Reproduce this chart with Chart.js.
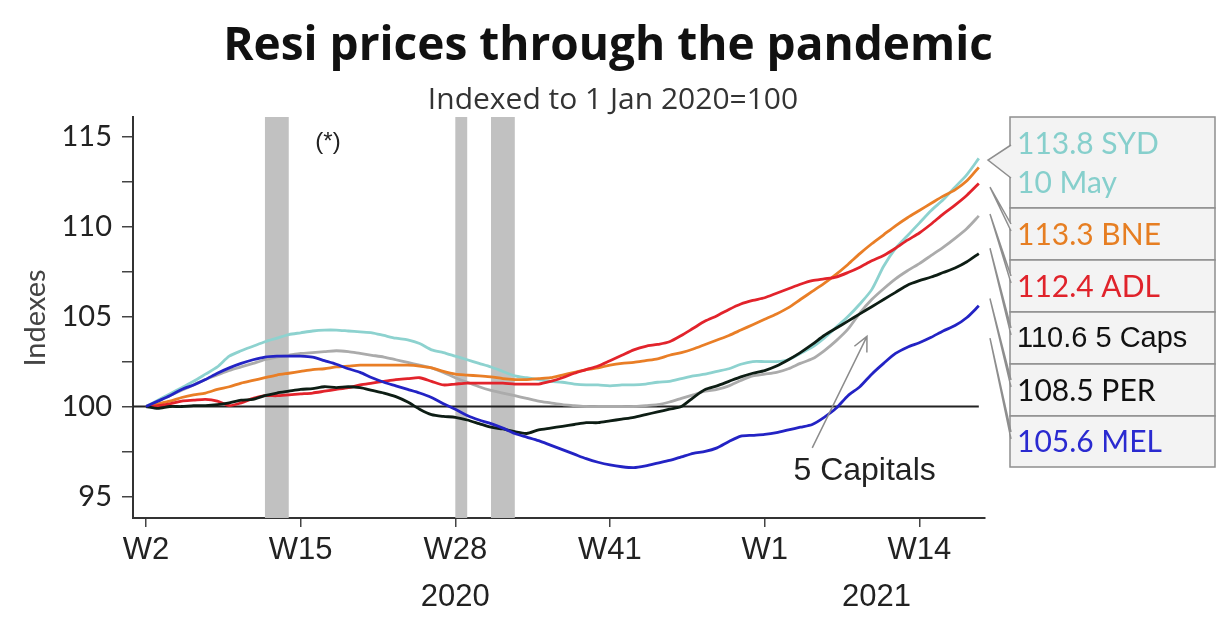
<!DOCTYPE html>
<html>
<head>
<meta charset="utf-8">
<script src="https://cdn.jsdelivr.net/npm/chart.js@4/dist/chart.umd.min.js"></script>
<style>
  html, body { margin: 0; padding: 0; background: #fff; }
  canvas { display: block; }
</style>
</head>
<body>
<canvas id="resiChart" width="1230" height="622"></canvas>
<script>
// weekly index values, W2 2020 .. W19 2021 (10 May)
const sydData = [100.0, 100.35, 100.7, 101.05, 101.4, 101.8, 102.2, 102.8, 103.1, 103.35,
  103.6, 103.8, 104.0, 104.1, 104.2, 104.25, 104.25, 104.2, 104.15, 104.1,
  103.95, 103.8, 103.7, 103.5, 103.15, 103.0, 102.8, 102.6, 102.4, 102.2,
  101.95, 101.7, 101.6, 101.5, 101.4, 101.35, 101.25, 101.2, 101.2, 101.15,
  101.2, 101.2, 101.25, 101.35, 101.4, 101.55, 101.7, 101.8, 101.95, 102.1,
  102.35, 102.5, 102.5, 102.5, 102.6, 102.95, 103.3, 103.8, 104.4, 105.0,
  105.7, 106.5, 107.8, 108.8, 109.5, 110.2, 110.9, 111.5, 112.2, 112.9, 113.8];
const bneData = [100.0, 100.15, 100.3, 100.5, 100.65, 100.75, 100.95, 101.1, 101.3, 101.45,
  101.6, 101.75, 101.85, 101.95, 102.05, 102.1, 102.2, 102.25, 102.3, 102.3,
  102.3, 102.3, 102.3, 102.25, 102.15, 101.95, 101.8, 101.75, 101.7, 101.65,
  101.55, 101.5, 101.5, 101.55, 101.6, 101.75, 101.9, 102.05, 102.15, 102.3,
  102.4, 102.45, 102.55, 102.65, 102.85, 103.0, 103.2, 103.45, 103.7, 103.95,
  104.25, 104.55, 104.85, 105.15, 105.5, 105.95, 106.4, 106.85, 107.35, 107.9,
  108.5, 109.05, 109.55, 110.05, 110.5, 110.9, 111.3, 111.7, 112.05, 112.55, 113.3];
const adlData = [100.0, 100.05, 100.15, 100.3, 100.35, 100.4, 100.3, 100.05, 100.2, 100.45,
  100.6, 100.6, 100.65, 100.7, 100.75, 100.85, 100.95, 101.05, 101.2, 101.3,
  101.4, 101.5, 101.55, 101.6, 101.4, 101.2, 101.25, 101.3, 101.3, 101.3,
  101.3, 101.25, 101.25, 101.25, 101.4, 101.6, 101.85, 102.05, 102.25, 102.55,
  102.85, 103.15, 103.35, 103.45, 103.6, 103.95, 104.35, 104.75, 105.05, 105.4,
  105.7, 105.9, 106.05, 106.3, 106.55, 106.8, 107.0, 107.1, 107.2, 107.45,
  107.75, 108.1, 108.4, 108.8, 109.25, 109.65, 110.15, 110.7, 111.2, 111.75, 112.4];
const capsData = [100.0, 100.3, 100.6, 100.9, 101.2, 101.5, 101.75, 102.0, 102.2, 102.4,
  102.6, 102.75, 102.85, 102.95, 103.0, 103.05, 103.1, 103.05, 102.95, 102.85,
  102.75, 102.6, 102.45, 102.3, 102.15, 101.9, 101.6, 101.35, 101.1, 100.9,
  100.75, 100.6, 100.45, 100.3, 100.2, 100.1, 100.05, 100.0, 100.0, 100.0,
  100.0, 100.0, 100.05, 100.1, 100.25, 100.45, 100.65, 100.85, 100.95, 101.15,
  101.45, 101.7, 101.8, 101.9, 102.1, 102.4, 102.65, 103.1, 103.65, 104.3,
  105.2, 105.95, 106.55, 107.1, 107.55, 107.95, 108.4, 108.85, 109.35, 109.9, 110.6];
const perData = [100.0, 99.9, 100.0, 100.0, 100.05, 100.05, 100.1, 100.2, 100.35, 100.4,
  100.6, 100.75, 100.85, 100.95, 101.0, 101.1, 101.05, 101.1, 101.05, 100.9,
  100.75, 100.55, 100.25, 99.85, 99.55, 99.45, 99.4, 99.25, 99.05, 98.85,
  98.75, 98.6, 98.5, 98.7, 98.8, 98.9, 99.0, 99.1, 99.1, 99.2,
  99.3, 99.4, 99.55, 99.7, 99.85, 100.0, 100.5, 100.95, 101.15, 101.4,
  101.65, 101.85, 102.0, 102.25, 102.6, 103.0, 103.45, 103.95, 104.35, 104.75,
  105.15, 105.55, 105.95, 106.35, 106.75, 107.0, 107.2, 107.45, 107.7, 108.05, 108.5];
const melData = [100.0, 100.3, 100.6, 100.95, 101.2, 101.5, 101.85, 102.15, 102.4, 102.6,
  102.75, 102.8, 102.8, 102.8, 102.75, 102.55, 102.35, 102.1, 101.9, 101.6,
  101.35, 101.15, 100.95, 100.75, 100.5, 100.15, 99.85, 99.5, 99.25, 99.05,
  98.8, 98.5, 98.3, 98.1, 97.85, 97.6, 97.35, 97.1, 96.9, 96.75,
  96.65, 96.6, 96.7, 96.85, 97.0, 97.2, 97.4, 97.5, 97.7, 98.05,
  98.35, 98.4, 98.45, 98.55, 98.7, 98.85, 99.0, 99.4, 99.9, 100.6,
  101.1, 101.8, 102.4, 102.95, 103.3, 103.55, 103.85, 104.2, 104.5, 104.95, 105.6];

const xTickWeeks = [0, 13, 26, 39, 52, 65];
const xTickLabels = ['W2', 'W15', 'W28', 'W41', 'W1', 'W14'];
const yTicks = [95, 97.5, 100, 102.5, 105, 107.5, 110, 112.5, 115];
const yearLabels = ['2020', '2021'];
const yearWeeks = [26, 61.4];
const lockdowns = [[10, 12], [26, 27], [29, 31]];
const endLabels = [['113.8 SYD', '10 May'], ['113.3 BNE'], ['112.4 ADL'], ['110.6 5 Caps'], ['108.5 PER'], ['105.6 MEL']];
// where each box's pointer meets the chart (index value at the right edge)
const pointerValues = [113.7, 112.2, 110.7, 108.8, 106.0, 103.8];

const series = [
  { label: 'SYD', data: sydData, color: '#8dd2cf', text: '#86cfcc', order: 5 },
  { label: 'BNE', data: bneData, color: '#e97e26', text: '#e67e22', order: 3 },
  { label: 'ADL', data: adlData, color: '#e2232b', text: '#e0232b', order: 2 },
  { label: '5 Caps', data: capsData, color: '#ababab', text: '#111111', order: 6 },
  { label: 'PER', data: perData, color: '#0d1d14', text: '#111111', order: 1 },
  { label: 'MEL', data: melData, color: '#2323c4', text: '#2a2ad0', order: 0 },
];

const toPoints = (arr) => arr.map((v, i) => ({ x: i, y: v }));

const decor = {
  id: 'decor',
  beforeDatasetsDraw(chart) {
    const { ctx, chartArea, scales } = chart;
    const x = scales.x, y = scales.y;
    ctx.save();
    ctx.fillStyle = '#c1c1c1';
    lockdowns.forEach(([a, b]) => {
      const x0 = x.getPixelForValue(a), x1 = x.getPixelForValue(b);
      ctx.fillRect(x0, chartArea.top, x1 - x0, chartArea.bottom - chartArea.top);
    });
    // 100 baseline
    ctx.strokeStyle = '#222';
    ctx.lineWidth = 2;
    ctx.beginPath();
    ctx.moveTo(chartArea.left, y.getPixelForValue(100));
    ctx.lineTo(x.getPixelForValue(70), y.getPixelForValue(100));
    ctx.stroke();
    ctx.restore();
  },
  afterDraw(chart) {
    const { ctx, chartArea, scales } = chart;
    const x = scales.x, y = scales.y;
    ctx.save();
    ctx.textAlign = 'center';
    ctx.textBaseline = 'middle';

    ctx.fillStyle = '#111';
    ctx.font = 'bold 46px "Open Sans"';
    ctx.fillText('Resi prices through the pandemic', 608, 47);
    ctx.fillStyle = '#333';
    ctx.font = '30px "Open Sans"';
    ctx.fillText('Indexed to 1 Jan 2020=100', 613, 100);

    // axis title
    ctx.save();
    ctx.translate(36, 318);
    ctx.rotate(-Math.PI / 2);
    ctx.fillStyle = '#444';
    ctx.font = '29px Lato';
    ctx.fillText('Indexes', 0, 0);
    ctx.restore();

    // years under ticks
    ctx.fillStyle = '#222';
    ctx.font = '31px "Liberation Sans"';
    yearLabels.forEach((t, i) => ctx.fillText(t, x.getPixelForValue(yearWeeks[i]), 597));

    ctx.font = '24px "Liberation Sans"';
    ctx.fillText('(*)', x.getPixelForValue(15.3), y.getPixelForValue(114.7));

    // 5 Capitals arrow
    const ax0 = x.getPixelForValue(56.0), ay0 = y.getPixelForValue(97.7);
    const ax1 = x.getPixelForValue(60.6), ay1 = y.getPixelForValue(103.9);
    ctx.strokeStyle = '#8c8c8c';
    ctx.lineWidth = 1.5;
    ctx.beginPath();
    ctx.moveTo(ax0, ay0);
    ctx.lineTo(ax1, ay1);
    const ang = Math.atan2(ay1 - ay0, ax1 - ax0);
    ctx.moveTo(ax1 - 16 * Math.cos(ang - 0.45), ay1 - 16 * Math.sin(ang - 0.45));
    ctx.lineTo(ax1, ay1);
    ctx.lineTo(ax1 - 16 * Math.cos(ang + 0.45), ay1 - 16 * Math.sin(ang + 0.45));
    ctx.stroke();
    ctx.fillStyle = '#222';
    ctx.font = '32px "Liberation Sans"';
    ctx.fillText('5 Capitals', x.getPixelForValue(60.4), y.getPixelForValue(96.4));

    // end label boxes
    const bl = 1010, br = 1215;
    const tops = [117, 208, 260, 312, 364, 416, 467];
    const tipX = 990;
    ctx.lineWidth = 1.5;
    series.forEach((s, k) => {
      const t = tops[k], b = tops[k + 1];
      ctx.fillStyle = '#f3f3f3';
      ctx.strokeStyle = '#8e8e8e';
      ctx.fillRect(bl, t, br - bl, b - t);
      ctx.strokeRect(bl, t, br - bl, b - t);
    });
    series.forEach((s, k) => {
      const t = tops[k];
      const ty = y.getPixelForValue(pointerValues[k]);
      const p0 = k === 0 ? t + 28 : t + 16;
      const p1 = k === 0 ? t + 61 : t + 23;
      ctx.fillStyle = '#f3f3f3';
      ctx.strokeStyle = '#8e8e8e';
      ctx.beginPath();
      ctx.moveTo(bl + 1, p0);
      ctx.lineTo(k === 0 ? tipX - 2 : tipX, ty);
      ctx.lineTo(bl + 1, p1);
      ctx.fill();
      ctx.stroke();
    });
    ctx.textAlign = 'left';
    series.forEach((s, k) => {
      const t = tops[k], b = tops[k + 1];
      const lines = endLabels[k];
      ctx.fillStyle = s.text;
      ctx.font = k === 3 ? '29px "Liberation Sans"' : '30px Lato';
      if (lines.length === 2) {
        ctx.fillText(lines[0], 1017, t + 27);
        ctx.fillText(lines[1], 1017, t + 66);
      } else {
        ctx.fillText(lines[0], 1017, (t + b) / 2 + 1);
      }
    });
    ctx.restore();
  }
};

new Chart(document.getElementById('resiChart'), {
  type: 'line',
  data: {
    datasets: series.map(s => ({
      label: s.label,
      data: toPoints(s.data),
      borderColor: s.color,
      borderWidth: 2.8,
      pointRadius: 0,
      tension: 0.25,
      order: s.order,
    })),
  },
  options: {
    responsive: false,
    devicePixelRatio: 1,
    animation: false,
    layout: { padding: { left: 0, right: 245, top: 117, bottom: 0 } },
    plugins: {
      legend: { display: false },
      tooltip: { enabled: false },
      title: { display: false },
    },
    scales: {
      x: {
        type: 'linear',
        min: -1.09,
        max: 70.52,
        afterBuildTicks: (scale) => { scale.ticks = xTickWeeks.map(v => ({ value: v })); },
        afterFit: (scale) => { scale.height = 104; },
        ticks: {
          autoSkip: false,
          maxRotation: 0,
          padding: 5,
          color: '#222',
          font: { family: '"Liberation Sans"', size: 31 },
          callback: (v, i) => xTickLabels[i],
        },
        grid: { drawOnChartArea: false, drawTicks: true, tickLength: 9, color: '#444', lineWidth: 1.5 },
        border: { color: '#333', width: 2 },
      },
      y: {
        min: 93.8,
        max: 116.1,
        afterBuildTicks: (scale) => { scale.ticks = yTicks.map(v => ({ value: v })); },
        afterFit: (scale) => { scale.width = 133; },
        ticks: {
          padding: 10,
          color: '#222',
          font: { family: 'Lato', size: 29 },
          callback: (v) => (v % 5 === 0 ? String(v) : ''),
        },
        grid: { drawOnChartArea: false, drawTicks: true, tickLength: 11, color: '#444', lineWidth: 1.5 },
        border: { color: '#333', width: 2 },
      },
    },
  },
  plugins: [decor],
});
</script>
</body>
</html>
